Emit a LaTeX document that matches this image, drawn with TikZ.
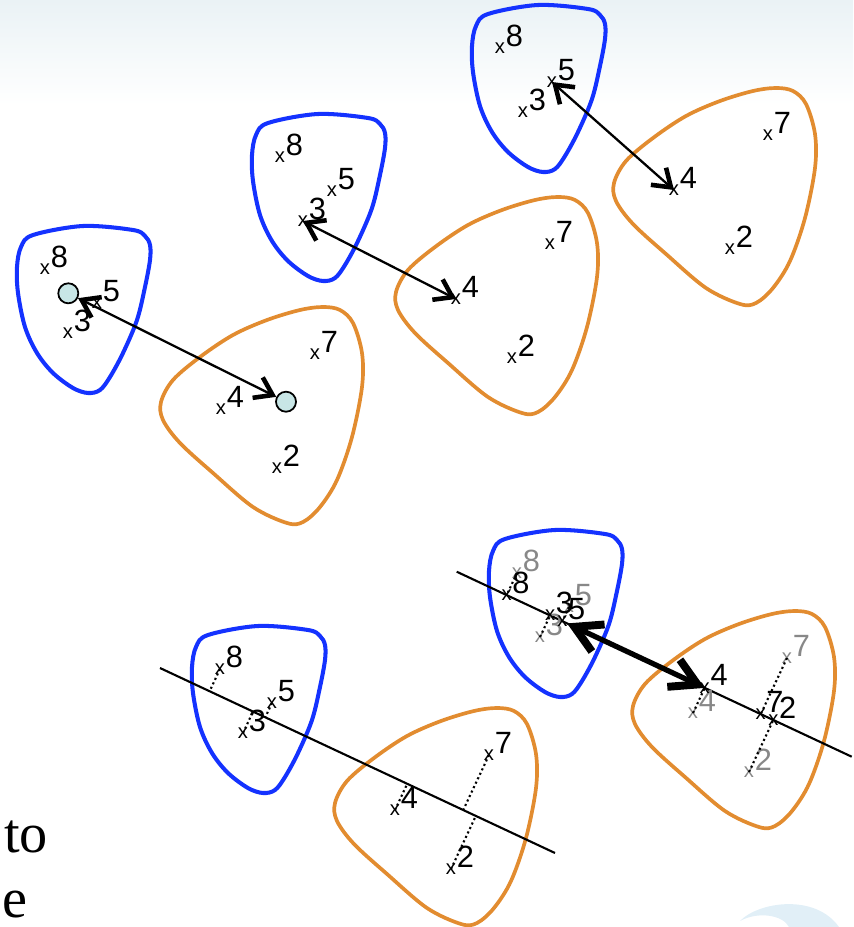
\documentclass[tikz,border=0pt]{standalone}
\usepackage{fontspec}
\setmainfont{Liberation Sans}
\newfontfamily\serifface{Liberation Serif}
\usetikzlibrary{arrows.meta,calc}
\definecolor{myblue}{RGB}{20,50,255}
\definecolor{myorange}{RGB}{226,140,48}
\definecolor{cyanfill}{RGB}{200,230,230}
\definecolor{mygray}{RGB}{136,136,136}
\definecolor{bgtop}{RGB}{234,242,245}
\definecolor{swoosh}{RGB}{225,239,247}
\tikzset{
  blueedge/.style={draw=myblue, line width=2.3pt},
  orangeedge/.style={draw=myorange, line width=2.1pt},
  xm/.style={inner sep=0pt, font=\fontsize{11.5}{12}\selectfont},
  dg/.style={inner sep=0pt, font=\fontsize{17.5}{18}\selectfont, anchor=base west, yshift=1.1pt},
  dbl/.style={line width=1.3pt, >={Straight Barb[length=9.5pt,width=13pt,line width=2.6pt]}, <->},
  bigdbl/.style={line width=3pt, >={Straight Barb[length=15pt,width=17pt,line width=4.5pt]}, <->},
  projline/.style={line width=1.2pt},
  dotline/.style={line width=1.2pt, dash pattern=on 1.2pt off 1.6pt},
  pc/.style={circle, draw=black, line width=1pt, fill=cyanfill, minimum size=11.4pt, inner sep=0pt},
  bigtext/.style={inner sep=0pt, anchor=base west, font=\serifface\fontsize{32}{32}\selectfont}
}
\newcommand\blueblob[1]{\draw[blueedge, shift={#1}] plot[smooth cycle, tension=0.55] coordinates {(66,1) (16,10) (4,22) (0,42) (1,68) (8,102) (20,128) (36,148) (56,163) (71,168) (83,165) (93,152) (106,128) (120,95) (128,62) (133,35) (133,20) (128,11) (116,5)};}
\newcommand\orangeblob[1]{\draw[orangeedge, shift={#1}] plot[smooth cycle, tension=0.55] coordinates {(163,2) (140,5) (107,15) (73,30) (40,52) (13,75) (1,97) (3,115) (20,138) (53,168) (93,202) (127,218) (143,217) (160,202) (177,175) (192,132) (202,82) (202,48) (193,18) (180,5)};}
\newcommand\xpt[4][black]{\node[xm,text=#1] (#2) at (#3) {x};\node[dg,text=#1] (#2d) at (#2.east) {#4};}
\newcommand\bluepts[3][black]{%
  \xpt[#1]{#2x8}{$(#3)+(28,44)$}{8}
  \xpt[#1]{#2x5}{$(#3)+(80,78)$}{5}
  \xpt[#1]{#2x3}{$(#3)+(51,108)$}{3}}
\newcommand\orangepts[3][black]{%
  \xpt[#1]{#2x7}{$(#3)+(155,49)$}{7}
  \xpt[#1]{#2x4}{$(#3)+(61,104)$}{4}
  \xpt[#1]{#2x2}{$(#3)+(117,163)$}{2}}
\begin{document}
\begin{tikzpicture}[x=0.02cm, y=-0.02cm]
\useasboundingbox (0,0) rectangle (853,927);
% background
\shade[top color=bgtop, bottom color=white] (0,0) rectangle (853,105);
\fill[swoosh] (740,921) .. controls (758,902) and (815,893) .. (839,927) -- (789,927) .. controls (783,915) and (758,911) .. (740,921) -- cycle;
\node[bigtext] (txtto) at (4,852) {to};
\node[bigtext] (txte) at (2,917) {e};
% origins
\coordinate (B1) at (17,225);  \coordinate (O1) at (160,305);
\coordinate (B2) at (252,113); \coordinate (O2) at (395,195);
\coordinate (B3) at (472,4);   \coordinate (O3) at (613,86);
\coordinate (B4) at (192,625); \coordinate (O4) at (334,706);
\coordinate (B5) at (489,529); \coordinate (O5) at (632,609);
% blobs
\blueblob{(B1)} \orangeblob{(O1)}
\blueblob{(B2)} \orangeblob{(O2)}
\blueblob{(B3)} \orangeblob{(O3)}
\blueblob{(B4)} \orangeblob{(O4)}
\blueblob{(B5)} \orangeblob{(O5)}
% group 1
\bluepts{g1}{B1}
\orangepts{g1}{O1}
\node[pc] (c1b) at (68.3,293.3) {};
\node[pc] (c1o) at (286,401.7) {};
\draw[dbl] (c1o) -- (c1b);
% group 2
\bluepts{g2}{B2}
\orangepts{g2}{O2}
\draw[dbl] (g2x3.center) -- (g2x4.center);
% group 3
\bluepts{g3}{B3}
\orangepts{g3}{O3}
\draw[dbl] (g3x5.center) -- (g3x4.center);
% group 4
\coordinate (L4a) at (160,668);
\coordinate (L4b) at (555,853);
\draw[projline] (L4a) -- (L4b);
\bluepts{g4}{B4}
\orangepts{g4}{O4}
\foreach \p in {x8,x5,x3,x7,x4,x2}{
  \draw[dotline] (g4\p.center) -- ($(L4a)!(g4\p.center)!(L4b)$);
}
% group 5
\coordinate (L5a) at (456.7,571.7);
\coordinate (L5b) at (851.7,756.7);
\draw[projline] (L5a) -- (L5b);
\bluepts[mygray]{g5}{B5}
\orangepts[mygray]{g5}{O5}
\foreach \p in {x8,x5,x3,x7,x4,x2}{
  \coordinate (p\p) at ($(L5a)!(g5\p.center)!(L5b)$);
  \draw[dotline] (g5\p.center) -- (p\p);
}
\xpt{h5x8}{px8}{8}
\xpt{h5x3}{px3}{3}
\xpt{h5x5}{px5}{5}
\xpt{h5x4}{px4}{4}
\xpt{h5x7}{px7}{7}
\xpt{h5x2}{px2}{2}
\draw[bigdbl, shorten <=3pt] (h5x5.center) -- (h5x4.center);
\end{tikzpicture}
\end{document}
